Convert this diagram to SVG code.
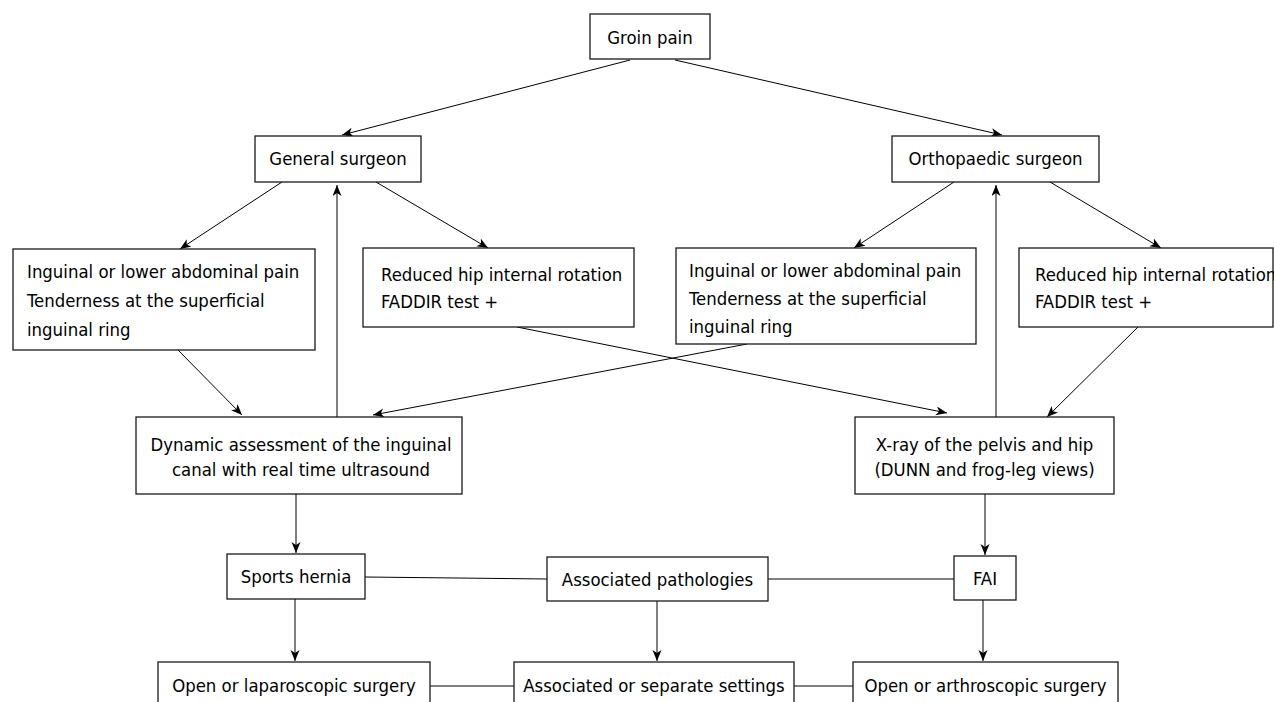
<svg xmlns="http://www.w3.org/2000/svg" width="1274" height="702" viewBox="0 0 1274 702">
<style>
.box{fill:#fff;stroke:#1a1a1a;stroke-width:1.3}
.t{font-family:"DejaVu Sans Condensed","DejaVu Sans",sans-serif;font-stretch:condensed;font-size:18.4px;fill:#000}
.c{text-anchor:middle}
.ln{stroke:#000;stroke-width:1;fill:none}
.ar{marker-end:url(#ah)}
</style>
<defs>
<marker id="ah" markerUnits="userSpaceOnUse" markerWidth="12" markerHeight="10" refX="11" refY="4.5" orient="auto">
<path d="M0,0 L11,4.5 L0,9 L3,4.5 z" fill="#000"/>
</marker>
</defs>
<rect width="1274" height="702" fill="#fff"/>
<g id="connectors">
<line class="ln ar" x1="630" y1="60" x2="342" y2="135"/>
<line class="ln ar" x1="675" y1="60" x2="1002" y2="135"/>
<line class="ln ar" x1="282" y1="182" x2="180" y2="249"/>
<line class="ln ar" x1="376" y1="182" x2="488" y2="248"/>
<line class="ln ar" x1="954" y1="182" x2="854" y2="248"/>
<line class="ln ar" x1="1050" y1="182" x2="1161" y2="248"/>
<line class="ln ar" x1="337" y1="417" x2="337" y2="185"/>
<line class="ln ar" x1="996" y1="417" x2="996" y2="185"/>
<line class="ln ar" x1="178" y1="350" x2="242" y2="415"/>
<line class="ln ar" x1="517" y1="327" x2="947" y2="413"/>
<line class="ln ar" x1="747" y1="344" x2="373" y2="415"/>
<line class="ln ar" x1="1138" y1="327" x2="1047" y2="417"/>
<line class="ln ar" x1="296" y1="494" x2="296" y2="553"/>
<line class="ln ar" x1="985" y1="494" x2="985" y2="555"/>
<line class="ln" x1="365" y1="577" x2="547" y2="579"/>
<line class="ln" x1="768" y1="579" x2="954" y2="579"/>
<line class="ln ar" x1="295" y1="599" x2="295" y2="661"/>
<line class="ln ar" x1="657" y1="601" x2="657" y2="661"/>
<line class="ln ar" x1="983" y1="600" x2="983" y2="661"/>
<line class="ln" x1="430" y1="686" x2="514" y2="686"/>
<line class="ln" x1="794" y1="686" x2="853" y2="686"/>
</g>
<g id="groin"><rect class="box" x="590" y="14" width="120" height="45"/><text class="t c" x="650" y="44">Groin pain</text></g>
<g id="general"><rect class="box" x="255" y="136" width="166" height="46"/><text class="t c" x="338" y="165">General surgeon</text></g>
<g id="ortho"><rect class="box" x="892" y="136" width="207" height="46"/><text class="t c" x="995.5" y="165">Orthopaedic surgeon</text></g>
<g id="inguinal-left"><rect class="box" x="13" y="249" width="302" height="101"/><text class="t" x="27" y="278">Inguinal or lower abdominal pain</text><text class="t" x="27" y="307">Tenderness at the superficial</text><text class="t" x="27" y="336">inguinal ring</text></g>
<g id="reduced-left"><rect class="box" x="363" y="248" width="271" height="79"/><text class="t" x="381" y="281">Reduced hip internal rotation</text><text class="t" x="381" y="308">FADDIR test +</text></g>
<g id="inguinal-right"><rect class="box" x="676" y="248" width="300" height="96"/><text class="t" x="689" y="277">Inguinal or lower abdominal pain</text><text class="t" x="689" y="305">Tenderness at the superficial</text><text class="t" x="689" y="333">inguinal ring</text></g>
<g id="reduced-right"><rect class="box" x="1019" y="248" width="254" height="79"/><text class="t" x="1035" y="281">Reduced hip internal rotation</text><text class="t" x="1035" y="308">FADDIR test +</text></g>
<g id="dynamic"><rect class="box" x="136" y="417" width="326" height="77"/><text class="t c" x="301" y="451">Dynamic assessment of the inguinal</text><text class="t c" x="301" y="476">canal with real time ultrasound</text></g>
<g id="xray"><rect class="box" x="855" y="417" width="259" height="77"/><text class="t c" x="984.5" y="451">X-ray of the pelvis and hip</text><text class="t c" x="984.5" y="476">(DUNN and frog-leg views)</text></g>
<g id="sports"><rect class="box" x="227" y="554" width="138" height="45"/><text class="t c" x="296" y="583">Sports hernia</text></g>
<g id="assoc"><rect class="box" x="547" y="557" width="221" height="44"/><text class="t c" x="657.5" y="586">Associated pathologies</text></g>
<g id="fai"><rect class="box" x="954" y="556" width="62" height="44"/><text class="t c" x="985" y="585">FAI</text></g>
<g id="open-lap"><rect class="box" x="158" y="662" width="272" height="50"/><text class="t c" x="294" y="692">Open or laparoscopic surgery</text></g>
<g id="assoc-sep"><rect class="box" x="514" y="662" width="280" height="50"/><text class="t c" x="654" y="692">Associated or separate settings</text></g>
<g id="open-arthro"><rect class="box" x="853" y="662" width="265" height="50"/><text class="t c" x="985.5" y="692">Open or arthroscopic surgery</text></g>
</svg>
